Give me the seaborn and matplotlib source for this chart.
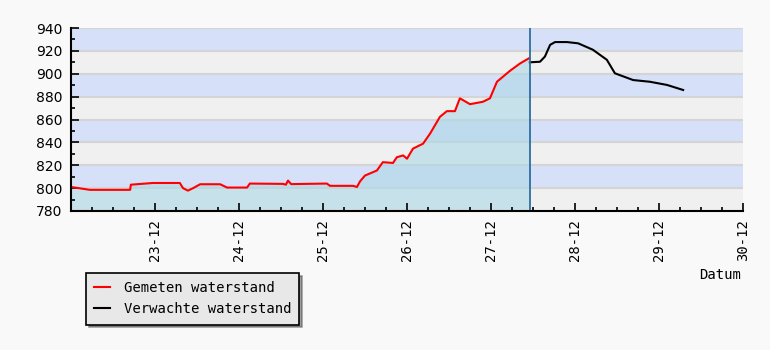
import pandas as pd
import numpy as np
import matplotlib
matplotlib.use('Agg')
import matplotlib.pyplot as plt
import matplotlib.dates as mdates
import seaborn as sns

# hours since 22-12 00:00, water level (cm)
meas_hours = [0, 5.4, 16.9, 17.1, 23.4, 31.1, 32, 33.4, 34.9, 36.9, 42.6, 44.6, 50.3, 51.1,
              60.6, 61.4, 62, 62.9, 73.1, 74, 80.6, 81.7, 82.6, 84, 87.4, 89.1, 92, 93.1,
              94.9, 96, 97.7, 100.6, 102.6, 105.4, 107.4, 109.7, 111.1, 114, 117.7, 119.7,
              121.7, 125.4, 128.3, 130.9]
meas_level = [801, 798.5, 798.5, 803, 804.5, 804.5, 800, 797.8, 800, 803.4, 803.4, 800.5, 800.5, 804,
              803.7, 803, 806.6, 803.5, 804, 802, 802, 801, 806, 811, 815.4, 822.7, 822, 827,
              828.6, 825.7, 834.5, 838.9, 847.7, 862.3, 867.3, 867.3, 878.5, 873.4, 875.5, 878.5,
              893, 902.5, 909, 913.6]
fc_hours = [131.1, 134, 135.4, 136.9, 138.3, 141.7, 144.9, 149.1, 153.1, 155.4, 160.6,
            165.4, 170.3, 174.9]
fc_level = [910, 910.5, 915, 925.3, 927.7, 927.7, 926.6, 921, 912.2, 900.4, 894.5,
            893, 890.2, 885.8]
now_hour = 131.1

start = pd.Timestamp('2023-12-22')
meas = pd.DataFrame({'t': start + pd.to_timedelta(meas_hours, unit='h'), 'v': meas_level})
fc = pd.DataFrame({'t': start + pd.to_timedelta(fc_hours, unit='h'), 'v': fc_level})
now = start + pd.Timedelta(hours=now_hour)

fig = plt.figure(figsize=(7.7, 3.5), dpi=100, facecolor='#f9f9f9')
ax = fig.add_axes([71/770, 1-211/350, 672/770, 183/350])
ax.set_facecolor('#f0f0f0')

# banded background
for i, lo in enumerate(range(780, 940, 20)):
    ax.axhspan(lo, lo+20, color='#f0f0f0' if i % 2 == 0 else '#d6e0f8', lw=0, zorder=0)
for y in range(800, 941, 20):
    ax.axhline(y, color='#d4d4d4', lw=1.5, zorder=0.5)

ax.fill_between(list(meas['t']) + [now], list(meas['v']) + [meas['v'].iloc[-1]], 780,
                color='#add8e6', alpha=0.6, lw=0, zorder=1)
sns.lineplot(data=meas, x='t', y='v', ax=ax, color='red', lw=1.5,
             label='Gemeten waterstand', zorder=3)
sns.lineplot(data=fc, x='t', y='v', ax=ax, color='black', lw=1.5,
             label='Verwachte waterstand', zorder=3)
ax.axvline(now, color='#2f6ea0', lw=1.3, zorder=4)

ax.set_xlim(start, start + pd.Timedelta(days=8))
ax.set_ylim(780, 940)
ax.set_yticks(range(780, 941, 20))
ax.yaxis.set_minor_locator(plt.MultipleLocator(10))
ax.xaxis.set_major_locator(mdates.DayLocator())
ax.xaxis.set_major_formatter(mdates.DateFormatter('%d-%m'))
ax.xaxis.set_minor_locator(mdates.HourLocator(byhour=[6, 12, 18]))
ax.set_xticks(ax.get_xticks()[1:])

for s in ['top', 'right']:
    ax.spines[s].set_visible(False)
for s in ['left', 'bottom']:
    ax.spines[s].set_color('black')
    ax.spines[s].set_linewidth(1.5)
    ax.spines[s].set_zorder(5)

ax.tick_params(which='major', direction='in', length=6, width=1.2, color='black')
ax.tick_params(which='minor', direction='in', length=3, width=1.2, color='black')
ax.tick_params(axis='y', labelsize=10, pad=6)
ax.tick_params(axis='x', labelsize=10, pad=6, labelrotation=90)
for lab in ax.get_xticklabels():
    lab.set_family('DejaVu Sans Mono')

ax.set_ylabel('')
ax.set_xlabel('')
fig.text(741/770, 1-275/350, 'Datum', family='DejaVu Sans Mono', fontsize=10,
         ha='right', va='center')

leg = ax.legend(loc='upper left', bbox_to_anchor=(86/770, 1-273/350),
                bbox_transform=fig.transFigure, frameon=True, fancybox=False,
                shadow=True, prop={'family': 'DejaVu Sans Mono', 'size': 10},
                handlelength=1.1, handletextpad=1.0, borderpad=0.6,
                labelspacing=0.5, borderaxespad=0)
leg.get_frame().set_facecolor('#e8e8e8')
leg.get_frame().set_edgecolor('black')
leg.get_frame().set_alpha(1)
leg.get_frame().set_linewidth(1.2)

fig.savefig('out.png', dpi=100, facecolor=fig.get_facecolor())
